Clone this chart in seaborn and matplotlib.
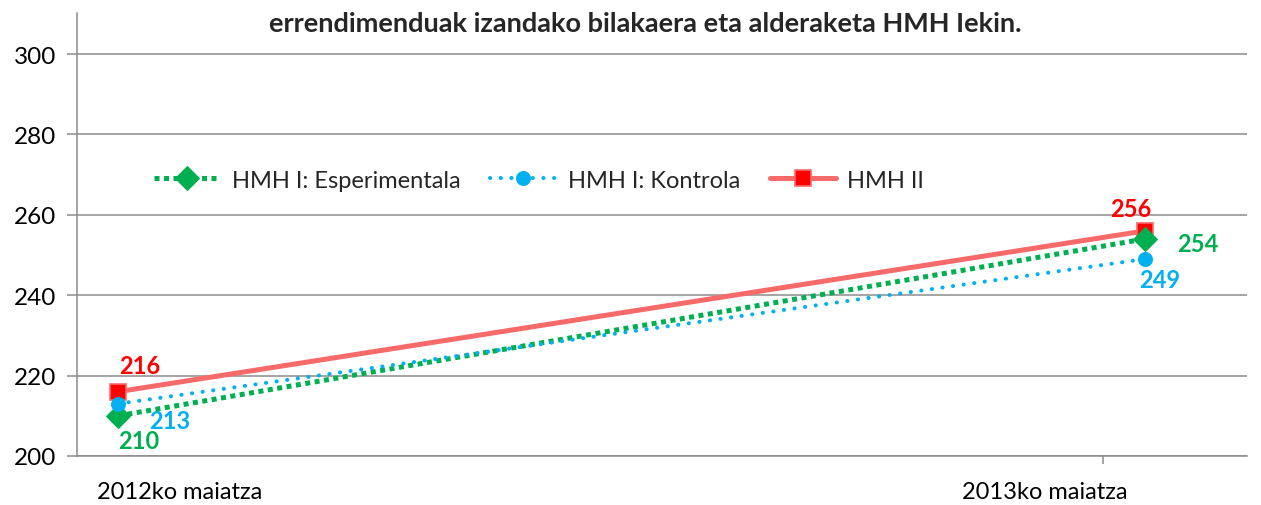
import matplotlib
matplotlib.use("Agg")
import matplotlib.pyplot as plt
import seaborn as sns
import pandas as pd

# Data
periods = ["2012ko maiatza", "2013ko maiatza"]
esperimentala = [210, 254]
kontrola = [213, 249]
hmh2 = [216, 256]
series_names = ["HMH I: Esperimentala", "HMH I: Kontrola", "HMH II"]
title = "errendimenduak izandako bilakaera eta alderaketa HMH Iekin."

sns.set_theme(style="white")
plt.rcParams["font.family"] = ["Lato", "DejaVu Sans"]

GREEN = "#00B050"
BLUE = "#00B0F0"
RED_LINE = "#F76A6A"
RED = "#FF0000"
GRID = "#8C8C8C"

fig = plt.figure(figsize=(12.61, 5.06), dpi=100)
ax = fig.add_axes([77 / 1261, 1 - 457 / 506, (1247 - 77) / 1261, (457 - 14) / 506])

x = list(range(len(periods)))
df = pd.DataFrame({"x": x, "esp": esperimentala, "kon": kontrola, "h2": hmh2})

sns.lineplot(data=df, x="x", y="h2", ax=ax, color=RED_LINE, lw=3.6,
             marker="s", markersize=12, markerfacecolor=RED,
             markeredgecolor=RED_LINE, markeredgewidth=1.2,
             label=series_names[2], zorder=3, solid_capstyle="round")
sns.lineplot(data=df, x="x", y="esp", ax=ax, color=GREEN, lw=3.6,
             marker="D", markersize=12, markerfacecolor=GREEN,
             markeredgecolor=GREEN, label=series_names[0], zorder=4)
sns.lineplot(data=df, x="x", y="kon", ax=ax, color=BLUE, lw=2.9,
             marker="o", markersize=10, markerfacecolor=BLUE,
             markeredgecolor=BLUE, label=series_names[1], zorder=5)

lines = ax.get_lines()
lines[1].set_linestyle((0, (1.0, 0.9)))
lines[1].set_dash_capstyle("butt")
lines[2].set_linestyle((0, (0.05, 2.6)))
lines[2].set_dash_capstyle("round")

# Value labels
lab_kw = dict(fontsize=17, fontweight="bold", ha="center", va="center",
              textcoords="offset pixels")
ax.annotate(str(hmh2[0]), (0, hmh2[0]), xytext=(22, 26), color=RED, **lab_kw)
ax.annotate(str(esperimentala[0]), (0, esperimentala[0]), xytext=(21, -25), color=GREEN, **lab_kw)
ax.annotate(str(kontrola[0]), (0, kontrola[0]), xytext=(52, -17), color=BLUE, **lab_kw)
ax.annotate(str(hmh2[1]), (1, hmh2[1]), xytext=(-14, 22), color=RED, **lab_kw)
ax.annotate(str(esperimentala[1]), (1, esperimentala[1]), xytext=(53, -5), color=GREEN, **lab_kw)
ax.annotate(str(kontrola[1]), (1, kontrola[1]), xytext=(15, -20), color=BLUE, **lab_kw)

# Axes
ax.set_ylim(200, 310.2)
ax.set_yticks(range(200, 301, 20))
px_per_unit = 1027
ax.set_xlim(-41 / px_per_unit, 1 + 102 / px_per_unit)
ax.set_xticks([62 / px_per_unit, 927 / px_per_unit])
ax.set_xticklabels(periods)
ax.set_xticks([985 / px_per_unit], minor=True)
ax.set_xlabel("")
ax.set_ylabel("")

ax.yaxis.grid(True, color=GRID, lw=1.1)
ax.xaxis.grid(False)
for side in ["top", "right"]:
    ax.spines[side].set_visible(False)
for side in ["left", "bottom"]:
    ax.spines[side].set_color(GRID)
    ax.spines[side].set_linewidth(1.1)

ax.tick_params(axis="y", which="major", left=True, length=7, width=1.1, color=GRID,
               labelsize=17.5, pad=8, labelcolor="black")
ax.tick_params(axis="x", which="major", bottom=False, length=0, labelsize=17, pad=18,
               labelcolor="black")
ax.tick_params(axis="x", which="minor", bottom=True, length=6, width=1.1, color=GRID)

handles, labels = ax.get_legend_handles_labels()
order = [labels.index(n) for n in series_names]
leg = ax.legend([handles[i] for i in order], [labels[i] for i in order],
                loc="center left", bbox_to_anchor=(0.0475, 0.623), ncol=3, frameon=False,
                fontsize=17, handlelength=2.8, columnspacing=1.25, handletextpad=0.5)

fig.text(0.512, 0.952, title, ha="center", va="center", fontsize=19.5, fontweight="bold")

fig.savefig("out.png", dpi=100)
